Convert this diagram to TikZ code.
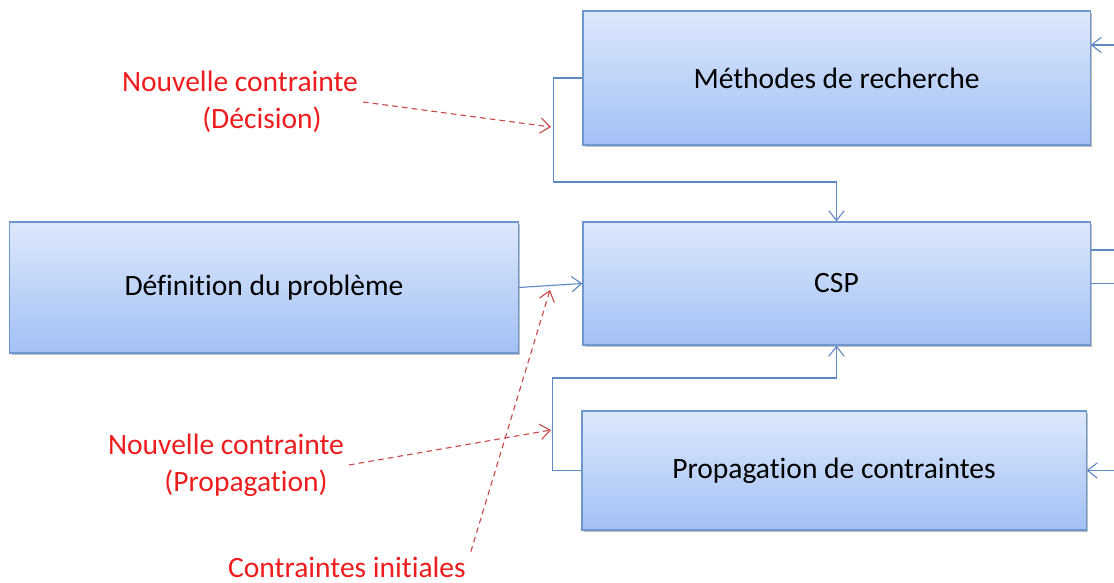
\documentclass[tikz,border=0pt]{standalone}
\usepackage{fontspec}
\setmainfont{Carlito}[Ligatures=NoCommon, Contextuals=NoAlternate]
\usetikzlibrary{arrows.meta,shadows}

\definecolor{boxtop}{HTML}{DDE8FC}
\definecolor{boxbot}{HTML}{A3C0F5}
\definecolor{boxline}{HTML}{6F97CF}
\definecolor{linkblue}{HTML}{5F8AC6}
\definecolor{notered}{HTML}{EE1C1C}
\definecolor{dashred}{HTML}{C84A4A}

\tikzset{
    block/.style={draw=boxline, thick, top color=boxtop, bottom color=boxbot,
        drop shadow={shadow xshift=1.2pt, shadow yshift=-1.2pt, fill=black, opacity=0.25},
        font=\fontsize{21}{25}\selectfont},
    link/.style={draw=linkblue, thick, -{Straight Barb[length=7pt, width=11pt]}},
    plainlink/.style={draw=linkblue, thick},
    note/.style={text=notered, align=center, font=\fontsize{21}{26.5}\selectfont},
    noteline/.style={draw=dashred, thick, dash pattern=on 4pt off 3pt, -{Straight Barb[length=7pt, width=11pt]}}
}

\begin{document}
\begin{tikzpicture}[x=0.025cm, y=-0.025cm]
    \useasboundingbox (0,0) rectangle (1114,583);

    % Boxes
    \node[block, minimum width=12.675cm, minimum height=3.35cm] (meth) at (836.5,78) {Méthodes de recherche};
    \node[block, minimum width=12.675cm, minimum height=3.075cm] (csp) at (836.5,283.5) {CSP};
    \node[block, minimum width=12.7cm, minimum height=3.275cm] (defn) at (264,287.5) {Définition du problème};
    \node[block, minimum width=12.6cm, minimum height=2.975cm] (prop) at (834,470.5) {Propagation de contraintes};

    % Bends and free ends
    \coordinate (topbend) at (836.5,182);
    \coordinate (botbend) at (836.5,378);
    \coordinate (methin) at (1114,45);
    \coordinate (propin) at (1114,470.5);
    \coordinate (cspout1) at (1114,250);
    \coordinate (cspout2) at (1114,283.5);

    % Blue connectors
    \draw[link] (meth.west) -- ++(-29,0) |- (topbend) -- (csp.north);
    \draw[link] (prop.west) -- ++(-29,0) |- (botbend) -- (csp.south);
    \draw[link] (defn.east) -- (csp.west);
    \draw[link] (methin) -- (meth.east |- methin);
    \draw[link] (propin) -- (prop.east);
    \draw[plainlink] (csp.east |- cspout1) -- (cspout1);
    \draw[plainlink] (csp.east) -- (cspout2);

    % Red notes
    \node[note] (dec) at (240,102) {Nouvelle contrainte\\\hspace*{1.1cm}(Décision)};
    \node[note] (newprop) at (226,465) {Nouvelle contrainte\\\hspace*{1.0cm}(Propagation)};
    \node[note] (init) at (347,567) {Contraintes initiales};

    \coordinate (decin) at (551,127);
    \coordinate (propnotein) at (551,430);
    \coordinate (initin) at (550,290);

    \draw[noteline] (dec.east) -- (decin);
    \draw[noteline] (newprop.east) -- (propnotein);
    \draw[noteline] (init.north east) -- (initin);
\end{tikzpicture}
\end{document}
